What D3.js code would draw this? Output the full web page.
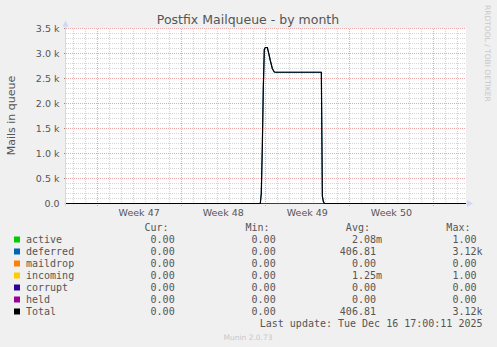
<!DOCTYPE html>
<html>
<head>
<meta charset="utf-8">
<script src="https://cdn.jsdelivr.net/npm/d3@7"></script>
<style>
    body { margin: 0; background: #f0f0f0; }
    svg { display: block; }
</style>
</head>
<body>
<div id="chart"></div>
<script>
// series and legend values
var names = ["active", "deferred", "maildrop", "incoming", "corrupt", "held", "Total"];
var colors = ["#00cc00", "#0066b3", "#ff8000", "#ffcc00", "#330099", "#990099", "#000000"];
var curVals = ["0.00", "0.00", "0.00", "0.00", "0.00", "0.00", "0.00"];
var minVals = ["0.00", "0.00", "0.00", "0.00", "0.00", "0.00", "0.00"];
var avgVals = ["2.08m", "406.81", "0.00", "1.25m", "0.00", "0.00", "406.81"];
var maxVals = ["1.00", "3.12k", "0.00", "1.00", "0.00", "0.00", "3.12k"];

var times = [
    "2025-11-13T10:00Z", "2025-11-29T14:00Z", "2025-11-29T16:00Z", "2025-11-29T18:00Z",
    "2025-11-29T20:00Z", "2025-11-29T22:00Z", "2025-11-30T00:00Z", "2025-11-30T04:00Z",
    "2025-11-30T06:00Z", "2025-11-30T10:00Z", "2025-11-30T14:00Z", "2025-11-30T18:00Z",
    "2025-11-30T20:00Z", "2025-12-04T16:00Z", "2025-12-04T18:00Z", "2025-12-04T20:00Z",
    "2025-12-04T22:00Z", "2025-12-16T17:00Z"
];
var totalValues = [0, 0, 200, 1100, 2300, 3080, 3120, 3120, 3040, 2860, 2700, 2630, 2625, 2625, 150, 40, 0, 0];
var deferredValues = [0, 0, 200, 1100, 2300, 3080, 3120, 3120, 3040, 2860, 2700, 2630, 2625, 2625, 150, 40, 0, 0];
var zeroValues = [0, 0, 0, 0, 0, 0, 0, 0, 0, 0, 0, 0, 0, 0, 0, 0, 0, 0];
var seriesValues = [zeroValues, deferredValues, zeroValues, zeroValues, zeroValues, zeroValues, totalValues];

var yTicks = [0, 500, 1000, 1500, 2000, 2500, 3000, 3500];
var yTickLabels = ["0.0", "0.5 k", "1.0 k", "1.5 k", "2.0 k", "2.5 k", "3.0 k", "3.5 k"];

var startTime = new Date("2025-11-13T09:48Z"),
    endTime = new Date("2025-12-16T17:00Z");

var W = 497, H = 347;
var plot = { left: 66, right: 466, top: 28.5, bottom: 203.5 };

var svg = d3.select("#chart")
    .append("svg")
    .attr("width", W)
    .attr("height", H)
    .style("font-family", "'DejaVu Sans', sans-serif");

svg.append("rect").attr("width", W).attr("height", H).attr("fill", "#f0f0f0");

var x = d3.scaleUtc().domain([startTime, endTime]).range([plot.left, plot.right]);
var y = d3.scaleLinear().domain([0, 3500]).range([plot.bottom, plot.top]);

var px = function(d) { return Math.round(x(d)) + 0.5; };

svg.append("rect")
    .attr("x", plot.left).attr("y", plot.top)
    .attr("width", plot.right - plot.left).attr("height", plot.bottom - plot.top)
    .attr("fill", "#ffffff");

var grid = svg.append("g").attr("shape-rendering", "crispEdges");

// minor grid
grid.selectAll(".hmin")
    .data(d3.range(0, 3501, 100).filter(v => v % 500 !== 0))
    .enter().append("line")
    .attr("x1", plot.left).attr("x2", plot.right)
    .attr("y1", d => y(d)).attr("y2", d => y(d))
    .attr("stroke", "#d6d6d6").attr("stroke-dasharray", "1,1");

grid.selectAll(".vmin")
    .data(d3.utcDay.range(startTime, endTime).filter(d => d.getUTCDay() !== 0))
    .enter().append("line")
    .attr("x1", px).attr("x2", px)
    .attr("y1", plot.top).attr("y2", plot.bottom)
    .attr("stroke", "#d6d6d6").attr("stroke-dasharray", "1,1");

// major grid
var weeks = d3.utcSunday.range(startTime, endTime);

grid.selectAll(".hmaj")
    .data(yTicks.filter(v => v > 0))
    .enter().append("line")
    .attr("x1", plot.left).attr("x2", plot.right)
    .attr("y1", d => y(d)).attr("y2", d => y(d))
    .attr("stroke", "#eaa8a8").attr("stroke-dasharray", "1,1");

grid.selectAll(".vmaj")
    .data(weeks)
    .enter().append("line")
    .attr("x1", px).attr("x2", px)
    .attr("y1", plot.top).attr("y2", plot.bottom + 3)
    .attr("stroke", "#eaa8a8").attr("stroke-dasharray", "1,1");

grid.selectAll(".ytick")
    .data(yTicks)
    .enter().append("line")
    .attr("x1", plot.left - 2).attr("x2", plot.left)
    .attr("y1", d => y(d)).attr("y2", d => y(d))
    .attr("stroke", "#888");

// axes
var axisColor = "#cfd6f8";
grid.append("line")
    .attr("x1", plot.left - 0.5).attr("x2", plot.left - 0.5)
    .attr("y1", plot.top - 4).attr("y2", plot.bottom + 2)
    .attr("stroke", axisColor);
grid.append("line")
    .attr("x1", plot.left - 2).attr("x2", plot.right + 2)
    .attr("y1", plot.bottom).attr("y2", plot.bottom)
    .attr("stroke", axisColor);

svg.append("path")
    .attr("d", "M" + (plot.left - 3.5) + "," + (plot.top - 2) + "L" + (plot.left - 0.5) + "," + (plot.top - 8) + "L" + (plot.left + 2.5) + "," + (plot.top - 2) + "Z")
    .attr("fill", axisColor);
svg.append("path")
    .attr("d", "M" + (plot.right + 1) + "," + (plot.bottom - 3.5) + "L" + (plot.right + 7) + "," + plot.bottom + "L" + (plot.right + 1) + "," + (plot.bottom + 3.5) + "Z")
    .attr("fill", axisColor);

// y labels
svg.selectAll(".ylab")
    .data(yTicks)
    .enter().append("text")
    .attr("x", 59.5)
    .attr("y", d => y(d) + 3.4)
    .attr("text-anchor", "end")
    .attr("font-size", "9.5px")
    .attr("fill", "#555")
    .text((d, i) => yTickLabels[i]);

// x labels, centered on each week
svg.selectAll(".xlab")
    .data(weeks.slice(0, -1))
    .enter().append("text")
    .attr("x", d => x(d3.utcHour.offset(d, 84)))
    .attr("y", 216)
    .attr("text-anchor", "middle")
    .attr("font-size", "9.5px")
    .attr("fill", "#555")
    .text(d => "Week " + d3.utcFormat("%V")(d3.utcHour.offset(d, 84)));

// lines
var line = d3.line()
    .x((d, i) => x(new Date(times[i])))
    .y(d => y(d));

svg.append("g")
    .selectAll("path")
    .data(seriesValues)
    .enter().append("path")
    .attr("d", d => line(d))
    .attr("fill", "none")
    .attr("stroke", (d, i) => colors[i])
    .attr("stroke-width", (d, i) => i === 6 ? 1.2 : 1);

// titles
svg.append("text")
    .attr("x", 248).attr("y", 24)
    .attr("text-anchor", "middle")
    .attr("font-size", "12.5px")
    .attr("fill", "#555")
    .text("Postfix Mailqueue - by month");

svg.append("text")
    .attr("transform", "translate(14.7,115.5) rotate(-90)")
    .attr("text-anchor", "middle")
    .attr("font-size", "11px")
    .attr("fill", "#555")
    .text("Mails in queue");

svg.append("text")
    .attr("transform", "translate(484.5,5) rotate(90)")
    .attr("font-size", "7.5px")
    .attr("fill", "#c8c8c8")
    .text("RRDTOOL / TOBI OETIKER");

// legend
var mono = "'DejaVu Sans Mono', monospace";
var charW = 6.02;
var colEnds = [180.7, 281.7, 382, 482.5];
var colHeads = ["Cur:", "Min:", "Avg:", "Max:"];
var colVals = [curVals, minVals, avgVals, maxVals];

var legend = svg.append("g")
    .style("font-family", mono)
    .attr("font-size", "10px")
    .attr("fill", "#555");

legend.selectAll(".head")
    .data(colHeads)
    .enter().append("text")
    .attr("x", (d, i) => colEnds[i] - 2 * charW)
    .attr("y", 231)
    .attr("text-anchor", "end")
    .text(d => d);

var rows = legend.selectAll(".row")
    .data(names)
    .enter().append("g")
    .attr("transform", (d, i) => "translate(0," + (239.5 + i * 12) + ")");

rows.append("rect")
    .attr("x", 14).attr("y", -3)
    .attr("width", 6).attr("height", 6)
    .attr("fill", (d, i) => colors[i]);

rows.append("text")
    .attr("x", 26).attr("y", 3.5)
    .text(d => d);

colVals.forEach(function(vals, c) {
    rows.append("text")
        .attr("x", (d, i) => colEnds[c] - (/[0-9]$/.test(vals[i]) ? charW : 0))
        .attr("y", 3.5)
        .attr("text-anchor", "end")
        .text((d, i) => vals[i]);
});

legend.append("text")
    .attr("x", 482.5).attr("y", 327)
    .attr("text-anchor", "end")
    .text("Last update: Tue Dec 16 17:00:11 2025");

svg.append("text")
    .attr("x", 248).attr("y", 339.5)
    .attr("text-anchor", "middle")
    .attr("font-size", "7.5px")
    .attr("fill", "#c8c8c8")
    .text("Munin 2.0.73");
</script>
</body>
</html>
